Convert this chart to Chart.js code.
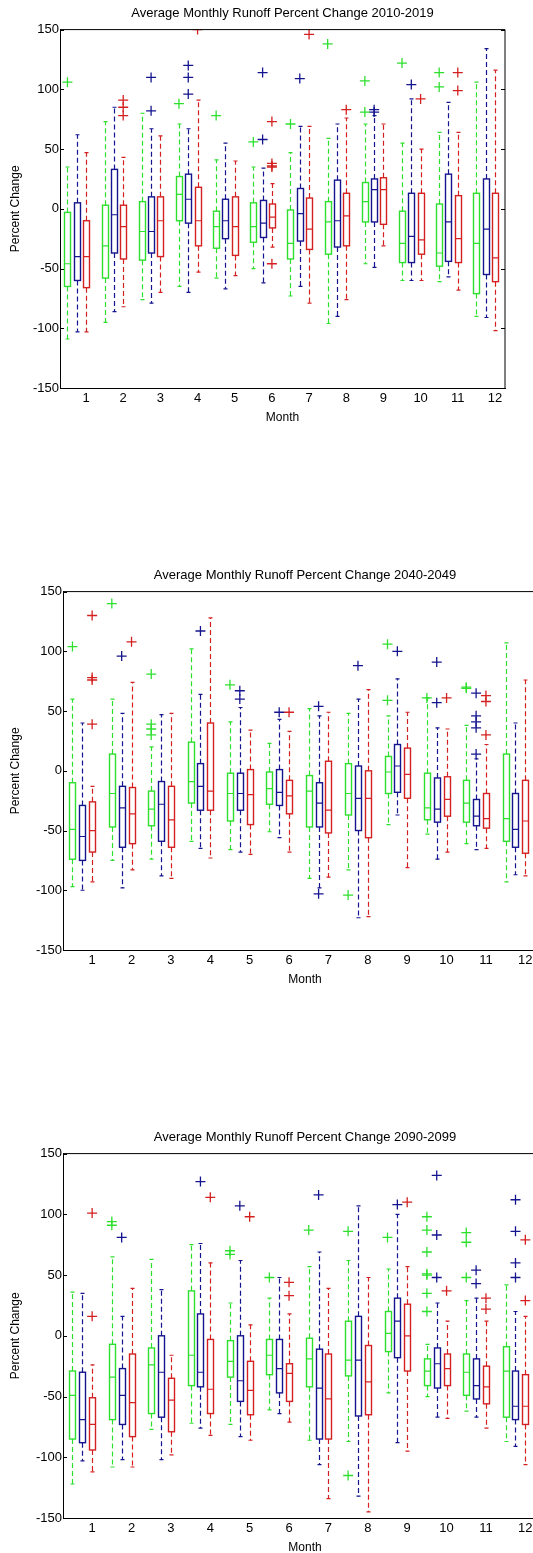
<!DOCTYPE html>
<html>
<head>
<meta charset="utf-8">
<script src="https://cdn.jsdelivr.net/npm/chart.js@4"></script>
<style>
  body { margin: 0; background: #fff; width: 533px; height: 1553px; overflow: hidden; position: relative; }
  canvas { position: absolute; left: 0; }
</style>
</head>
<body>
<canvas id="c1" style="top:0px"></canvas>
<canvas id="c2" style="top:562px"></canvas>
<canvas id="c3" style="top:1124px"></canvas>
<script>
// months on the x axis
var months = [1, 2, 3, 4, 5, 6, 7, 8, 9, 10, 11, 12];
var yTicks = [-150, -100, -50, 0, 50, 100, 150];
var titles = ['Average Monthly Runoff Percent Change 2010-2019',
              'Average Monthly Runoff Percent Change 2040-2049',
              'Average Monthly Runoff Percent Change 2090-2099'];

// box stats per month: [lower whisker, q1, median, q3, upper whisker]
var p1Green = [[-109,-65,-46,-3,35],[-95,-58,-31,3,73],[-76,-43,-19,6,80],[-65,-10,12,27,71],[-58,-33,-15,-2,41],[-50,-28,-15,5,35],
               [-73,-42,-29,-1,47],[-96,-38,-11,6,59],[-46,-11,6,22,71],[-60,-45,-29,-2,55],[-61,-48,-37,4,64],[-90,-71,-29,13,106]];
var p1Blue  = [[-103,-60,-40,5,62],[-86,-37,-5,33,85],[-79,-37,-19,10,67],[-70,-12,8,29,67],[-67,-25,-10,8,55],[-62,-24,-12,7,34],
               [-65,-27,-4,17,69],[-90,-32,-10,24,71],[-49,-11,16,25,78],[-60,-45,-23,13,92],[-57,-44,-11,29,89],[-91,-55,-17,25,134]];
var p1Red   = [[-103,-66,-40,-10,47],[-82,-42,-15,3,43],[-70,-40,-10,10,61],[-53,-31,-10,18,91],[-56,-39,-15,10,40],[-32,-16,-7,4,21],
               [-79,-34,-17,9,69],[-76,-31,-6,13,76],[-31,-13,16,26,71],[-60,-38,-26,13,50],[-68,-45,-25,11,64],[-102,-61,-41,13,116]];
var p1GreenOut = [[106],[],[],[88],[78],[56],[71],[138],[107,81],[122],[114,102],[]];
var p1BlueOut  = [[],[],[110,82],[120,110,96],[],[114,58],[109],[],[83,81],[104],[],[]];
var p1RedOut   = [[],[91,85,78],[],[150],[],[73,38,36,35,-46],[146],[83],[],[92],[114,99],[]];

var p2Green = [[-97,-74,-49,-10,60],[-75,-47,-19,14,60],[-74,-46,-32,-17,20],[-59,-27,-9,24,102],[-66,-42,-19,-2,41],[-51,-28,-15,-1,23],
               [-90,-47,-17,-4,52],[-83,-37,-19,6,48],[-45,-19,-1,12,46],[-53,-41,-31,-2,61],[-61,-43,-27,-8,38],[-93,-59,-40,14,107]];
var p2Blue  = [[-100,-75,-55,-29,40],[-98,-64,-31,-13,48],[-88,-59,-28,-9,47],[-65,-33,-13,6,64],[-68,-33,-19,-2,53],[-56,-29,-18,1,43],
               [-98,-47,-27,-10,46],[-123,-50,-23,4,60],[-37,-18,4,22,77],[-74,-43,-32,-6,36],[-66,-46,-38,-24,10],[-87,-64,-49,-19,40]];
var p2Red   = [[-93,-68,-50,-26,-13],[-83,-61,-36,-14,74],[-90,-64,-41,-13,48],[-73,-33,-17,40,128],[-70,-45,-20,1,34],[-68,-36,-21,-8,33],
               [-89,-52,-33,8,49],[-122,-56,-23,0,68],[-81,-23,-3,19,49],[-68,-38,-24,-5,35],[-65,-48,-40,-19,22],[-88,-69,-42,-8,76]];
var p2GreenOut = [[104],[140],[81,39,35,30],[],[72],[],[],[-104],[106,59],[61],[70,69],[]];
var p2BlueOut  = [[],[96],[],[117],[67,60],[49],[54,-103],[88],[100],[91,57],[65,46,41,36,14],[]];
var p2RedOut   = [[130,78,76,39],[108],[],[],[],[49],[],[],[],[61],[63,58,30],[]];

var p3Green = [[-122,-85,-49,-29,36],[-108,-69,-34,-7,65],[-77,-64,-24,-10,63],[-72,-41,-16,37,75],[-73,-34,-21,-4,27],[-61,-32,-16,-3,31],
               [-86,-42,-19,-2,57],[-87,-33,-20,12,62],[-47,-13,2,20,55],[-50,-41,-29,-19,-7],[-62,-49,-30,-15,29],[-87,-67,-29,-9,42]];
var p3Blue  = [[-103,-88,-69,-30,35],[-102,-73,-49,-27,16],[-102,-67,-30,0,38],[-76,-42,-30,18,76],[-83,-54,-37,0,62],[-64,-47,-27,-3,48],
               [-106,-85,-43,-11,69],[-132,-66,-20,16,107],[-88,-18,12,31,100],[-67,-43,-23,-10,27],[-67,-52,-41,-19,31],[-91,-69,-58,-29,20]];
var p3Red   = [[-112,-94,-73,-51,-24],[-108,-83,-55,-15,39],[-98,-79,-53,-35,-16],[-82,-64,-44,-3,60],[-86,-65,-45,-21,9],[-71,-54,-31,-23,18],
               [-134,-85,-52,-15,39],[-145,-65,-38,-8,48],[-95,-29,0,26,57],[-68,-41,-27,-15,12],[-76,-56,-42,-25,12],[-106,-73,-58,-32,16]];
var p3GreenOut = [[],[94,91],[],[],[70,67],[48],[87],[86,-115],[81],[98,87,69,51,50,35,20],[85,77,48],[]];
var p3BlueOut  = [[],[81],[],[127],[107],[],[116],[],[108],[132,83,48],[54,43],[112,86,60,48]];
var p3RedOut   = [[101,16],[],[],[114],[98],[44,33],[],[],[110],[37],[31,22],[79,29]];

var GREEN = '#2ee02e', BLUE = '#14148f', RED = '#d42020';

function outlierPoints(list, off) {
  var pts = [];
  list.forEach(function (vals, i) {
    vals.forEach(function (v) { pts.push({ x: months[i] + off, y: v }); });
  });
  return pts;
}

var boxPlugin = {
  id: 'boxes',
  afterDatasetsDraw: function (chart) {
    var ctx = chart.ctx, xs = chart.scales.x, ys = chart.scales.y;
    var a = chart.chartArea;
    ctx.save();
    ctx.beginPath(); ctx.rect(a.left, a.top - 3, a.right - a.left, a.bottom - a.top + 6); ctx.clip();
    chart.options.plugins.boxes.series.forEach(function (s) {
      s.data.forEach(function (b, i) {
        var cx = Math.round(xs.getPixelForValue(months[i] + s.off)) + 0.5;
        var hw = Math.round(xs.getPixelForValue(0.085) - xs.getPixelForValue(0));
        var yLo = ys.getPixelForValue(b[0]), yQ1 = ys.getPixelForValue(b[1]), yMed = ys.getPixelForValue(b[2]);
        var yQ3 = ys.getPixelForValue(b[3]), yHi = ys.getPixelForValue(b[4]);
        ctx.strokeStyle = s.color; ctx.lineWidth = 1.2;
        ctx.setLineDash([5, 3]);
        ctx.beginPath();
        ctx.moveTo(cx, yQ3); ctx.lineTo(cx, yHi);
        ctx.moveTo(cx, yQ1); ctx.lineTo(cx, yLo);
        ctx.stroke();
        ctx.setLineDash([]);
        ctx.beginPath();
        ctx.moveTo(cx - 2, yHi); ctx.lineTo(cx + 2, yHi);
        ctx.moveTo(cx - 2, yLo); ctx.lineTo(cx + 2, yLo);
        ctx.moveTo(cx - hw, yMed); ctx.lineTo(cx + hw, yMed);
        ctx.stroke();
        ctx.lineWidth = 1.4;
        ctx.strokeRect(cx - hw, yQ3, 2 * hw, yQ1 - yQ3);
      });
    });
    ctx.restore();
    // top/right frame and inward ticks
    ctx.save();
    ctx.strokeStyle = '#000'; ctx.lineWidth = 1;
    ctx.beginPath();
    ctx.moveTo(a.left, a.top); ctx.lineTo(a.right, a.top); ctx.lineTo(a.right, a.bottom);
    yTicks.forEach(function (t) {
      var y = Math.round(ys.getPixelForValue(t)) + 0.5;
      ctx.moveTo(a.left, y); ctx.lineTo(a.left + 4, y);
      ctx.moveTo(a.right, y); ctx.lineTo(a.right - 4, y);
    });
    ctx.stroke();
    ctx.restore();
  }
};

function makeChart(id, w, h, left, xmin, xmax, padRight, title, g, b, r, go, bo, ro) {
  var cv = document.getElementById(id);
  cv.width = w; cv.height = h;
  cv.style.width = w + 'px'; cv.style.height = h + 'px';
  var offs = [-0.5, -0.25, 0];
  var font = { family: 'Liberation Sans, Arial, sans-serif', size: 12, weight: 'normal' };
  var titleFont = { family: 'Liberation Sans, Arial, sans-serif', size: 13, weight: 'normal' };
  var tickFont = { family: 'Liberation Sans, Arial, sans-serif', size: 13, weight: 'normal' };
  return new Chart(cv.getContext('2d'), {
    type: 'scatter',
    data: {
      datasets: [
        { data: outlierPoints(go, offs[0]), borderColor: GREEN, pointStyle: 'cross', radius: 5, borderWidth: 1.3 },
        { data: outlierPoints(bo, offs[1]), borderColor: BLUE, pointStyle: 'cross', radius: 5, borderWidth: 1.3 },
        { data: outlierPoints(ro, offs[2]), borderColor: RED, pointStyle: 'cross', radius: 5, borderWidth: 1.3 }
      ]
    },
    options: {
      responsive: false,
      animation: false,
      devicePixelRatio: 1,
      layout: { padding: { left: 0, right: padRight, top: 0, bottom: 0 } },
      plugins: {
        legend: { display: false },
        tooltip: { enabled: false },
        title: { display: true, fullSize: false, text: title, color: '#000', font: titleFont, padding: { top: 6, bottom: 8 } },
        boxes: { series: [{ data: g, color: GREEN, off: offs[0] }, { data: b, color: BLUE, off: offs[1] }, { data: r, color: RED, off: offs[2] }] }
      },
      scales: {
        x: {
          type: 'linear', min: xmin, max: xmax,
          afterBuildTicks: function (s) { s.ticks = months.map(function (m) { return { value: m }; }); },
          afterFit: function (s) { s.height = 37; },
          ticks: { color: '#000', font: tickFont, padding: 3, callback: function (v) { return v; } },
          grid: { display: false, drawTicks: false, tickLength: 0 },
          border: { display: true, color: '#000' },
          title: { display: true, text: 'Month', color: '#000', font: font, padding: 0 }
        },
        y: {
          min: -150, max: 150,
          afterBuildTicks: function (s) { s.ticks = yTicks.map(function (v) { return { value: v }; }); },
          afterFit: function (s) { s.width = left; },
          ticks: { color: '#000', font: tickFont, padding: 1 },
          grid: { display: false, drawTicks: false, tickLength: 0 },
          border: { display: true, color: '#000' },
          title: { display: true, text: 'Percent Change', color: '#000', font: font, padding: { top: 8, bottom: 0 } }
        }
      }
    },
    plugins: [boxPlugin]
  });
}

makeChart('c1', 533, 425, 60, 0.3, 12.27, 28, titles[0], p1Green, p1Blue, p1Red, p1GreenOut, p1BlueOut, p1RedOut);
makeChart('c2', 560, 425, 63, 0.26, 12.55, 13, titles[1], p2Green, p2Blue, p2Red, p2GreenOut, p2BlueOut, p2RedOut);
makeChart('c3', 560, 431, 63, 0.26, 12.55, 13, titles[2], p3Green, p3Blue, p3Red, p3GreenOut, p3BlueOut, p3RedOut);
</script>
</body>
</html>
